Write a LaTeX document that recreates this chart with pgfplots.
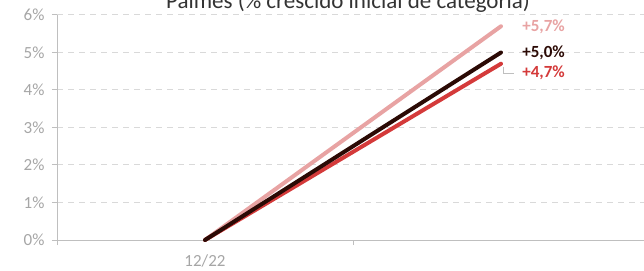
\documentclass[border=0pt]{standalone}
\usepackage{pgfplots}
\pgfplotsset{compat=1.18}
\usepackage{fontspec}
\setmainfont{Carlito}
\definecolor{cpink}{HTML}{E8A3A3}
\definecolor{cdark}{HTML}{2B0A05}
\definecolor{cred}{HTML}{D43A3A}
\definecolor{cgrid}{HTML}{D9D9D9}
\definecolor{caxis}{HTML}{BFBFBF}
\definecolor{ctick}{HTML}{A6A6A6}
\begin{document}
\begin{tikzpicture}[x=1pt,y=1pt]
\path[use as bounding box, clip] (0,0) rectangle (644,270);
\node[anchor=base, font=\fontsize{23}{26}\selectfont, text=black!80] at (348,261) {Palmes (\% crescido inicial de categoria)};
\begin{axis}[
  at={(57pt,30pt)}, anchor=south west,
  scale only axis, width=592pt, height=225pt,
  xmin=-0.5, xmax=1.5, ymin=0, ymax=6,
  axis lines*=left,
  axis line style={draw=caxis, line width=1pt},
  every tick/.style={draw=caxis, line width=1pt},
  tick align=outside,
  major tick length=5pt,
  xtick={-0.5,0.5,1.5}, xticklabels={},
  extra x ticks={0}, extra x tick labels={12/22},
  extra x tick style={major tick length=0pt, xticklabel style={yshift=-11pt}},
  ytick={0,1,2,3,4,5,6},
  yticklabel={\pgfmathprintnumber{\tick}\%},
  yticklabel style={xshift=-4pt},
  /pgf/number format/assume math mode=true,
  ticklabel style={font=\fontsize{17}{19}\selectfont, text=ctick},
  ymajorgrids, grid style={draw=cgrid, dashed, dash pattern=on 6pt off 5pt, line width=1pt},
  clip=false,
]
\addplot[cpink, line width=4pt, line cap=round] coordinates {(0,0) (1,5.7)};
\addplot[cred, line width=4pt, line cap=round] coordinates {(0,0) (1,4.7)};
\addplot[cdark, line width=4pt, line cap=round] coordinates {(0,0) (1,5.0)};
\draw[caxis, line width=1pt] (axis cs:1.008,4.62) -- (axis cs:1.008,4.45) -- (axis cs:1.045,4.45);
\node[anchor=west, font=\bfseries\fontsize{17}{19}\selectfont, text=cpink] at (axis cs:1.06,5.68) {+5,7\%};
\node[anchor=west, font=\bfseries\fontsize{17}{19}\selectfont, text=cdark] at (axis cs:1.06,4.99) {+5,0\%};
\node[anchor=west, font=\bfseries\fontsize{17}{19}\selectfont, text=cred] at (axis cs:1.06,4.45) {+4,7\%};
\end{axis}
\end{tikzpicture}
\end{document}
